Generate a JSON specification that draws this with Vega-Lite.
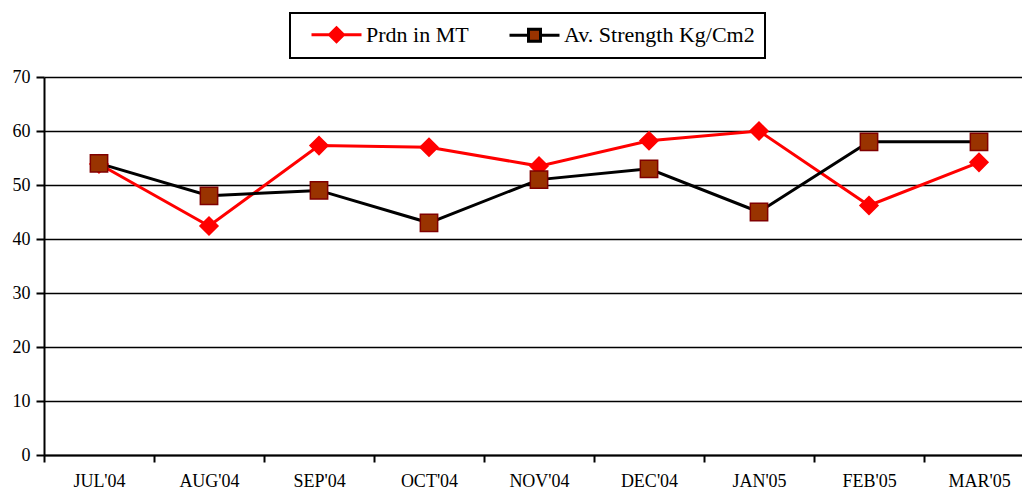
{
  "$schema": "https://vega.github.io/schema/vega-lite/v6.json",
  "autosize": "none",
  "width": 990,
  "height": 378,
  "padding": {"left": 44, "top": 77, "right": 0, "bottom": 36},
  "background": "white",
  "config": {
    "view": {"stroke": null},
    "font": "Liberation Serif",
    "axis": {"labelFont": "Liberation Serif", "labelColor": "#000", "titleFont": "Liberation Serif"},
    "legend": {"strokeWidth": 2, "labelFont": "Liberation Serif", "titleFont": "Liberation Serif"}
  },
  "data": {"values": [
    {"month": "JUL'04", "series": "Prdn in MT", "value": 53.9},
    {"month": "AUG'04", "series": "Prdn in MT", "value": 42.4},
    {"month": "SEP'04", "series": "Prdn in MT", "value": 57.3},
    {"month": "OCT'04", "series": "Prdn in MT", "value": 57.0},
    {"month": "NOV'04", "series": "Prdn in MT", "value": 53.5},
    {"month": "DEC'04", "series": "Prdn in MT", "value": 58.2},
    {"month": "JAN'05", "series": "Prdn in MT", "value": 60.0},
    {"month": "FEB'05", "series": "Prdn in MT", "value": 46.2},
    {"month": "MAR'05", "series": "Prdn in MT", "value": 54.2},
    {"month": "JUL'04", "series": "Av. Strength Kg/Cm2", "value": 54},
    {"month": "AUG'04", "series": "Av. Strength Kg/Cm2", "value": 48},
    {"month": "SEP'04", "series": "Av. Strength Kg/Cm2", "value": 49},
    {"month": "OCT'04", "series": "Av. Strength Kg/Cm2", "value": 43},
    {"month": "NOV'04", "series": "Av. Strength Kg/Cm2", "value": 51},
    {"month": "DEC'04", "series": "Av. Strength Kg/Cm2", "value": 53},
    {"month": "JAN'05", "series": "Av. Strength Kg/Cm2", "value": 45},
    {"month": "FEB'05", "series": "Av. Strength Kg/Cm2", "value": 58},
    {"month": "MAR'05", "series": "Av. Strength Kg/Cm2", "value": 58}
  ]},
  "encoding": {
    "x": {
      "field": "month", "type": "ordinal",
      "sort": ["JUL'04","AUG'04","SEP'04","OCT'04","NOV'04","DEC'04","JAN'05","FEB'05","MAR'05"],
      "scale": {"type": "band", "paddingInner": 0, "paddingOuter": 0},
      "axis": {
        "title": null, "labelAngle": 0, "labelFontSize": 18, "labelPadding": 10,
        "tickBand": "extent", "tickSize": 7, "tickWidth": 2, "tickColor": "#000",
        "domainColor": "#000", "domainWidth": 2, "grid": false
      }
    },
    "y": {
      "field": "value", "type": "quantitative",
      "scale": {"domain": [0, 70], "nice": false},
      "axis": {
        "title": null, "values": [0,10,20,30,40,50,60,70], "labelFontSize": 18, "labelPadding": 6,
        "tickSize": 8, "tickWidth": 2, "tickColor": "#000",
        "domainColor": "#000", "domainWidth": 2,
        "grid": true, "gridColor": "#000", "gridWidth": 1.5
      }
    }
  },
  "layer": [
    {
      "mark": {"type": "point", "opacity": 0, "filled": true},
      "encoding": {
        "shape": {
          "field": "series", "type": "nominal",
          "scale": {"domain": ["Prdn in MT", "Av. Strength Kg/Cm2"],
                    "range": ["M-2.5,0H2.5M0,-0.7L0.7,0L0,0.7L-0.7,0Z", "M-2.5,0H-0.6M0.6,0H2.5M-0.6,-0.6H0.6V0.6H-0.6Z"]},
          "legend": {
            "title": null, "orient": "none", "legendX": 246, "legendY": -64,
            "direction": "horizontal", "strokeColor": "#000",
            "padding": 10, "symbolSize": 400, "symbolOffset": 25, "labelOffset": 18,
            "columnPadding": 29, "labelFontSize": 22, "labelFont": "Liberation Serif",
            "labelColor": "#000", "symbolOpacity": 1, "symbolStrokeWidth": 3,
            "labelLimit": 400
          }
        },
        "fill": {
          "field": "series", "type": "nominal",
          "scale": {"domain": ["Prdn in MT", "Av. Strength Kg/Cm2"], "range": ["#FF0000", "#993300"]}
        },
        "stroke": {
          "field": "series", "type": "nominal",
          "scale": {"domain": ["Prdn in MT", "Av. Strength Kg/Cm2"], "range": ["#FF0000", "#000000"]}
        }
      }
    },
    {
      "mark": {"type": "line", "strokeWidth": 3},
      "encoding": {
        "stroke": {"field": "series", "type": "nominal", "legend": null},
        "detail": {"field": "series"}
      }
    },
    {
      "transform": [{"filter": "datum.series === 'Prdn in MT'"}],
      "mark": {"type": "point", "shape": "diamond", "filled": true, "size": 300, "fill": "#FF0000", "stroke": "#FF0000", "opacity": 1}
    },
    {
      "transform": [{"filter": "datum.series === 'Av. Strength Kg/Cm2'"}],
      "mark": {"type": "point", "shape": "square", "filled": true, "size": 300, "fill": "#993300", "stroke": "#800000", "strokeWidth": 1.5, "opacity": 1}
    }
  ]
}
